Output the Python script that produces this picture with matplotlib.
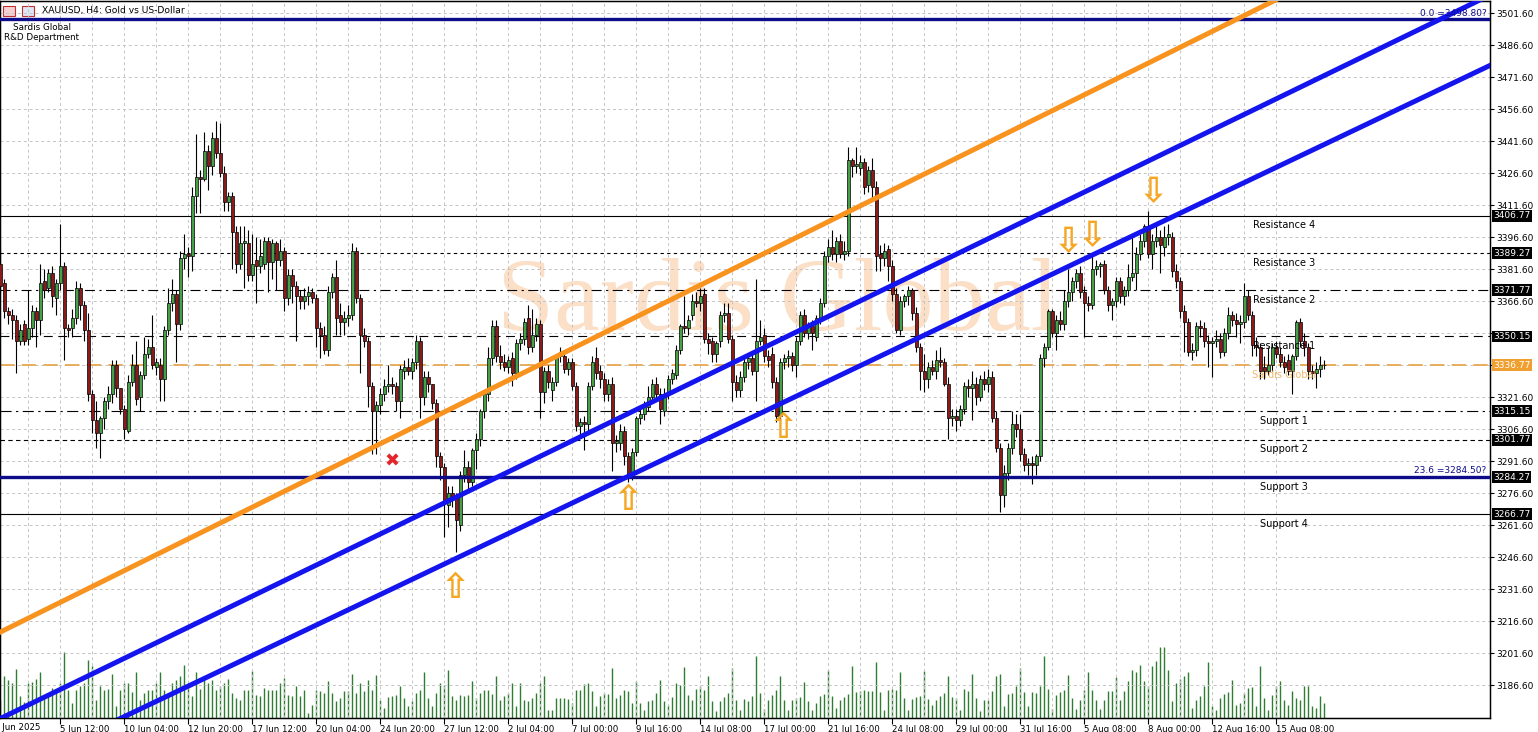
import numpy as np
import matplotlib
matplotlib.use("Agg")
import matplotlib.pyplot as plt
from matplotlib.patches import Rectangle
from matplotlib.transforms import ScaledTranslation, blended_transform_factory

plt.rcParams['font.family'] = ['DejaVu Sans']

# XAUUSD H4 candles, bar 0 = 3 Jun 2025 00:00
opens = [3384, 3375, 3362, 3360, 3358, 3348, 3356, 3349, 3354, 3362,
         3358, 3376, 3373, 3380, 3368, 3375, 3383, 3354, 3354, 3359,
         3373, 3365, 3353, 3323, 3311, 3305, 3312, 3320, 3323, 3337,
         3326, 3316, 3306, 3329, 3337, 3322, 3332, 3342, 3345, 3336,
         3337, 3330, 3353, 3366, 3370, 3356, 3387, 3389, 3388, 3416,
         3425, 3424, 3437, 3430, 3443, 3436, 3427, 3413, 3416, 3399,
         3384, 3394, 3394, 3379, 3386, 3383, 3384, 3395, 3385, 3394,
         3386, 3390, 3368, 3379, 3374, 3369, 3367, 3369, 3371, 3368,
         3354, 3351, 3344, 3371, 3378, 3360, 3357, 3359, 3360, 3390,
         3368, 3351, 3348, 3327, 3315, 3318, 3323, 3327, 3328, 3327,
         3320, 3334, 3336, 3334, 3338, 3348, 3322, 3331, 3328, 3319,
         3294, 3289, 3271, 3277, 3275, 3262, 3285, 3289, 3282, 3297,
         3302, 3315, 3323, 3340, 3355, 3341, 3338, 3336, 3340, 3333,
         3347, 3349, 3359, 3345, 3351, 3356, 3324, 3334, 3325, 3329,
         3341, 3341, 3335, 3338, 3327, 3308, 3310, 3309, 3327, 3340,
         3334, 3330, 3323, 3328, 3300, 3300, 3306, 3294, 3284, 3296,
         3312, 3314, 3317, 3322, 3328, 3323, 3315, 3323, 3330, 3332,
         3344, 3355, 3354, 3360, 3367, 3366, 3370, 3349, 3348, 3342,
         3348, 3360, 3361, 3349, 3329, 3325, 3331, 3338, 3340, 3334,
         3348, 3351, 3341, 3342, 3329, 3313, 3338, 3340, 3341, 3337,
         3348, 3360, 3352, 3355, 3350, 3359, 3366, 3388, 3392, 3389,
         3395, 3389, 3390, 3433, 3430, 3429, 3432, 3421, 3428, 3420,
         3389, 3387, 3391, 3383, 3370, 3353, 3367, 3369, 3372, 3361,
         3345, 3334, 3330, 3336, 3334, 3339, 3338, 3328, 3312, 3313,
         3311, 3316, 3327, 3326, 3328, 3322, 3330, 3328, 3331, 3312,
         3298, 3276, 3286, 3298, 3309, 3307, 3295, 3290, 3291, 3290,
         3294, 3340, 3345, 3362, 3352, 3358, 3356, 3367, 3371, 3376,
         3380, 3371, 3366, 3365, 3382, 3383, 3384, 3372, 3365, 3367,
         3376, 3369, 3372, 3378, 3380, 3389, 3395, 3402, 3389, 3395,
         3397, 3392, 3397, 3397, 3381, 3376, 3362, 3357, 3343, 3344,
         3355, 3354, 3348, 3347, 3348, 3349, 3343, 3352, 3360, 3358,
         3356, 3357, 3369, 3360, 3346, 3345, 3336, 3334, 3337, 3345,
         3342, 3338, 3339, 3334, 3341, 3357, 3348, 3345, 3334, 3333,
         3335, 3337]
highs = [3392, 3377, 3364, 3363, 3360, 3356, 3358, 3372, 3365, 3364,
         3384, 3382, 3382, 3383, 3377, 3403, 3385, 3356, 3363, 3376,
         3375, 3367, 3361, 3325, 3320, 3313, 3322, 3327, 3339, 3339,
         3326, 3318, 3332, 3342, 3348, 3334, 3350, 3349, 3360, 3340,
         3340, 3355, 3373, 3377, 3372, 3390, 3398, 3392, 3420, 3445,
         3428, 3446, 3440, 3446, 3451, 3450, 3430, 3418, 3418, 3402,
         3402, 3402, 3400, 3398, 3397, 3396, 3397, 3397, 3396, 3395,
         3396, 3392, 3382, 3382, 3376, 3372, 3373, 3374, 3373, 3370,
         3357, 3355, 3374, 3380, 3386, 3366, 3362, 3365, 3394, 3392,
         3370, 3354, 3350, 3329, 3320, 3326, 3330, 3337, 3331, 3329,
         3337, 3339, 3340, 3340, 3351, 3350, 3334, 3334, 3328, 3321,
         3296, 3291, 3280, 3280, 3277, 3287, 3297, 3292, 3298, 3305,
         3316, 3325, 3345, 3358, 3358, 3346, 3342, 3341, 3343, 3349,
         3352, 3359, 3365, 3363, 3359, 3358, 3336, 3337, 3331, 3342,
         3345, 3344, 3340, 3340, 3329, 3312, 3313, 3329, 3341, 3345,
         3337, 3333, 3330, 3331, 3304, 3309, 3308, 3296, 3298, 3313,
         3318, 3320, 3327, 3330, 3331, 3326, 3326, 3332, 3335, 3346,
         3356, 3369, 3360, 3370, 3371, 3373, 3373, 3352, 3350, 3348,
         3362, 3366, 3366, 3351, 3332, 3334, 3340, 3342, 3342, 3377,
         3358, 3354, 3344, 3345, 3331, 3340, 3342, 3344, 3343, 3350,
         3362, 3363, 3357, 3358, 3360, 3368, 3390, 3396, 3400, 3397,
         3398, 3395, 3439, 3434, 3439, 3435, 3434, 3430, 3434, 3423,
         3393, 3394, 3393, 3386, 3373, 3369, 3370, 3374, 3373, 3364,
         3347, 3342, 3338, 3339, 3344, 3345, 3340, 3331, 3316, 3316,
         3318, 3329, 3330, 3334, 3331, 3332, 3334, 3335, 3334, 3315,
         3300, 3290, 3300, 3315, 3314, 3314, 3298, 3293, 3294, 3295,
         3342, 3347, 3363, 3363, 3360, 3362, 3372, 3382, 3378, 3382,
         3383, 3374, 3369, 3388, 3386, 3385, 3386, 3374, 3368, 3378,
         3378, 3374, 3384, 3398, 3392, 3398, 3403, 3409, 3398, 3403,
         3400, 3402, 3403, 3399, 3384, 3378, 3365, 3359, 3347, 3357,
         3358, 3357, 3351, 3350, 3353, 3352, 3354, 3364, 3362, 3361,
         3360, 3375, 3372, 3362, 3350, 3347, 3341, 3345, 3347, 3348,
         3345, 3341, 3342, 3342, 3358, 3359, 3352, 3347, 3337, 3338,
         3341, 3339]
lows = [3370, 3359, 3356, 3349, 3333, 3346, 3346, 3346, 3350, 3345,
        3351, 3368, 3371, 3364, 3360, 3372, 3339, 3350, 3350, 3356,
        3358, 3348, 3320, 3305, 3298, 3293, 3307, 3316, 3319, 3322,
        3314, 3302, 3305, 3327, 3318, 3315, 3330, 3340, 3335, 3332,
        3320, 3320, 3351, 3362, 3338, 3353, 3382, 3378, 3381, 3408,
        3408, 3423, 3419, 3426, 3434, 3425, 3409, 3409, 3382, 3380,
        3382, 3373, 3376, 3376, 3366, 3380, 3382, 3371, 3377, 3372,
        3383, 3362, 3365, 3366, 3348, 3363, 3363, 3365, 3366, 3345,
        3340, 3342, 3341, 3368, 3351, 3351, 3351, 3355, 3358, 3366,
        3333, 3345, 3317, 3295, 3295, 3314, 3320, 3324, 3323, 3315,
        3312, 3330, 3332, 3330, 3335, 3312, 3318, 3324, 3316, 3289,
        3283, 3256, 3261, 3270, 3249, 3259, 3282, 3278, 3280, 3288,
        3299, 3312, 3320, 3337, 3338, 3335, 3334, 3333, 3327, 3330,
        3344, 3346, 3342, 3343, 3348, 3312, 3319, 3326, 3320, 3327,
        3338, 3333, 3332, 3325, 3306, 3303, 3297, 3306, 3325, 3330,
        3326, 3320, 3320, 3287, 3296, 3297, 3290, 3282, 3283, 3294,
        3309, 3311, 3315, 3320, 3321, 3309, 3313, 3321, 3328, 3330,
        3342, 3352, 3351, 3358, 3364, 3362, 3347, 3342, 3338, 3338,
        3345, 3357, 3347, 3320, 3322, 3322, 3329, 3335, 3332, 3320,
        3346, 3338, 3336, 3326, 3310, 3311, 3335, 3336, 3334, 3331,
        3346, 3350, 3349, 3344, 3348, 3356, 3364, 3385, 3386, 3385,
        3387, 3386, 3388, 3425, 3427, 3426, 3417, 3418, 3415, 3381,
        3381, 3383, 3376, 3367, 3352, 3351, 3364, 3365, 3358, 3343,
        3325, 3324, 3326, 3332, 3330, 3336, 3327, 3302, 3308, 3306,
        3308, 3314, 3322, 3311, 3318, 3320, 3325, 3324, 3310, 3296,
        3268, 3270, 3283, 3295, 3303, 3292, 3287, 3285, 3281, 3285,
        3292, 3336, 3344, 3350, 3344, 3353, 3353, 3364, 3367, 3373,
        3368, 3350, 3362, 3363, 3379, 3378, 3370, 3362, 3358, 3364,
        3366, 3365, 3369, 3376, 3372, 3386, 3392, 3387, 3382, 3392,
        3380, 3388, 3393, 3378, 3373, 3359, 3343, 3341, 3339, 3341,
        3350, 3345, 3336, 3331, 3345, 3340, 3341, 3349, 3355, 3350,
        3347, 3354, 3358, 3341, 3341, 3330, 3330, 3332, 3334, 3340,
        3336, 3333, 3332, 3323, 3339, 3345, 3341, 3330, 3330, 3326,
        3331, 3335]
closes = [3374, 3362, 3360, 3358, 3348, 3353, 3348, 3354, 3362, 3358,
          3375, 3372, 3380, 3369, 3375, 3383, 3354, 3353, 3359, 3373,
          3365, 3353, 3323, 3311, 3305, 3312, 3320, 3323, 3337, 3326,
          3316, 3307, 3329, 3337, 3321, 3332, 3342, 3345, 3337, 3338,
          3330, 3353, 3366, 3370, 3356, 3387, 3389, 3388, 3416, 3425,
          3424, 3437, 3430, 3443, 3436, 3427, 3413, 3416, 3399, 3384,
          3394, 3395, 3379, 3384, 3383, 3388, 3395, 3385, 3394, 3386,
          3390, 3368, 3379, 3374, 3369, 3367, 3369, 3371, 3368, 3354,
          3351, 3344, 3371, 3378, 3359, 3357, 3359, 3360, 3390, 3368,
          3351, 3348, 3327, 3315, 3318, 3323, 3327, 3328, 3327, 3320,
          3335, 3336, 3334, 3338, 3348, 3322, 3331, 3328, 3319, 3294,
          3289, 3272, 3277, 3275, 3264, 3285, 3289, 3282, 3297, 3302,
          3315, 3323, 3340, 3355, 3341, 3338, 3336, 3339, 3333, 3347,
          3349, 3357, 3345, 3351, 3356, 3324, 3334, 3329, 3329, 3341,
          3343, 3335, 3338, 3327, 3308, 3310, 3309, 3327, 3338, 3333,
          3330, 3323, 3328, 3300, 3301, 3306, 3294, 3284, 3296, 3312,
          3314, 3317, 3322, 3328, 3323, 3316, 3323, 3330, 3333, 3344,
          3355, 3354, 3358, 3367, 3366, 3369, 3349, 3347, 3342, 3347,
          3360, 3361, 3349, 3329, 3325, 3331, 3338, 3340, 3334, 3348,
          3350, 3341, 3339, 3329, 3313, 3338, 3340, 3341, 3337, 3348,
          3360, 3352, 3355, 3352, 3359, 3366, 3388, 3392, 3389, 3395,
          3389, 3390, 3433, 3430, 3431, 3432, 3420, 3428, 3420, 3388,
          3387, 3390, 3383, 3370, 3353, 3367, 3369, 3372, 3361, 3345,
          3334, 3330, 3336, 3334, 3339, 3338, 3328, 3312, 3313, 3311,
          3316, 3327, 3326, 3328, 3322, 3330, 3328, 3331, 3312, 3298,
          3276, 3286, 3298, 3309, 3307, 3295, 3290, 3291, 3290, 3294,
          3340, 3345, 3362, 3352, 3358, 3356, 3367, 3371, 3376, 3380,
          3371, 3366, 3365, 3382, 3383, 3384, 3372, 3365, 3367, 3376,
          3369, 3372, 3378, 3380, 3389, 3395, 3402, 3389, 3395, 3397,
          3393, 3397, 3398, 3381, 3376, 3362, 3357, 3343, 3344, 3355,
          3354, 3348, 3347, 3348, 3349, 3343, 3352, 3360, 3358, 3356,
          3357, 3369, 3360, 3346, 3345, 3334, 3334, 3337, 3345, 3342,
          3338, 3336, 3334, 3341, 3357, 3348, 3345, 3334, 3333, 3335,
          3337, 3337]
tick_volume = [18, 42, 38, 35, 49, 22, 16, 35, 36, 39,
               46, 22, 25, 30, 26, 35, 66, 28, 15, 28,
               32, 35, 58, 52, 18, 32, 28, 29, 44, 12,
               28, 35, 35, 26, 46, 18, 25, 28, 28, 35,
               46, 28, 22, 35, 38, 42, 53, 35, 22, 46,
               29, 38, 35, 38, 28, 32, 35, 39, 25, 20,
               18, 28, 28, 47, 23, 22, 30, 28, 28, 28,
               35, 40, 23, 22, 32, 22, 28, 5, 13, 28,
               27, 25, 37, 25, 17, 20, 27, 27, 44, 25,
               35, 27, 38, 28, 43, 18, 10, 21, 22, 23,
               32, 20, 12, 17, 25, 28, 46, 20, 12, 25,
               35, 33, 48, 22, 18, 23, 22, 23, 37, 20,
               25, 28, 28, 24, 42, 18, 22, 25, 35, 12,
               35, 18, 17, 20, 25, 35, 42, 8, 8, 20,
               20, 20, 19, 15, 28, 28, 34, 35, 27, 12,
               22, 25, 24, 50, 20, 23, 28, 27, 15, 37,
               15, 8, 17, 18, 25,
               38, 17, 13, 21, 35, 33, 51, 23, 18, 29,
               32, 28, 42, 17, 7, 17, 21, 25, 50, 18,
               8, 19, 17, 22, 62, 25, 9, 18, 23, 28,
               42, 18, 8, 18, 20, 21, 36, 17, 8, 15,
               22, 24, 48, 22, 10, 18, 21, 24, 52, 26,
               27, 28, 27, 27, 56, 26, 8, 28, 29, 28,
               46, 20, 8, 19, 21, 22, 47, 19, 13, 18,
               22, 25, 42, 21, 20, 8, 29, 27, 44, 20,
               7, 18, 18, 27, 42, 44, 12, 24, 25, 32,
               50, 26, 12, 26, 25, 32, 62, 29, 9, 23,
               26, 28, 43, 20, 9, 18, 28, 46, 28, 18,
               9, 18, 27, 27, 41, 18, 27, 37, 48, 46,
               53, 37, 32, 52, 57, 71, 71, 48, 17, 35,
               39, 42, 46, 10, 18, 22, 32, 56, 12, 8,
               20, 24, 26, 38, 13, 15, 25, 30, 31, 12,
               52, 20, 8, 23, 32, 37, 18, 13, 27, 20,
               18, 32, 32, 12, 10, 22, 15]

price_ticks = np.arange(3186.6, 3502.0, 15.0)
hidden_ticks = [3351.6, 3336.6]   # covered by level boxes
date_ticks = np.arange(15, 335, 16)
date_labels = ["5 Jun 12:00", "10 Jun 04:00", "12 Jun 20:00", "17 Jun 12:00",
               "20 Jun 04:00", "24 Jun 20:00", "27 Jun 12:00", "2 Jul 04:00",
               "7 Jul 00:00", "9 Jul 16:00", "14 Jul 08:00", "17 Jul 00:00",
               "21 Jul 16:00", "24 Jul 08:00", "29 Jul 00:00", "31 Jul 16:00",
               "5 Aug 08:00", "8 Aug 00:00", "12 Aug 16:00", "15 Aug 08:00"]

# support / resistance levels
level_names = ["Resistance 4", "Resistance 3", "Resistance 2", "Resistance 1",
               "Support 1", "Support 2", "Support 3", "Support 4"]
level_prices = [3406.77, 3389.27, 3371.77, 3350.15, 3315.15, 3301.77, 3284.27, 3266.77]
level_styles = ['-', (0, (3, 3)), (0, (9, 4, 2, 4)), (0, (8, 5)),
                (0, (10, 4, 2, 4)), (0, (4, 3)), '-', '-']
pivot_price = 3336.77
fibo_prices = [3498.80, 3284.50]
fibo_labels = ["0.0 =3498.80?", "23.6 =3284.50?"]

# trend lines: (bar, price) anchor pairs
orange_line = [(0, 3211.6), (300, 3490.4)]
blue_lines = [[(1.25, 3172.2), (360, 3498.9)],
              [(31.25, 3172.2), (333.25, 3442.2)]]

# arrow marks: (bar, price)
up_arrows = [(113.7, 3232.2), (157.0, 3273.5), (195.7, 3307.2)]
down_arrows = [(267.0, 3394.5), (272.9, 3397.3), (288.2, 3417.8)]
cross_mark = (98.0, 3291.3)

fig = plt.figure(figsize=(15.38, 7.32), dpi=100)
ax = fig.add_axes([0.0, 14 / 732, 1490 / 1538, 717 / 732])
axv = ax.twinx()
ax.set_zorder(axv.get_zorder() + 1)
ax.patch.set_visible(False)

x = np.arange(len(opens))
o = np.array(opens, float)
c = np.array(closes, float)
up = c >= o

# volumes
xv = np.arange(len(tick_volume))
axv.vlines(xv, 0, tick_volume, color='#2e7d32', lw=1.0)
axv.set_ylim(0, 717)
axv.set_yticks([])

# watermark
ax.text(0.522, 0.541, "Sardis Global", transform=ax.transAxes, fontsize=74,
        family='Liberation Serif', color='#fbdfc6', ha='center', va='baseline', zorder=0.5)

# levels
for name, p, ls in zip(level_names, level_prices, level_styles):
    ax.axhline(p, color='black', lw=0.8, ls=ls, zorder=2)
    ax.text(321, p - 2.2, name, ha='center', va='top', fontsize=7, color='black', zorder=6)
ax.axhline(pivot_price, color='#e8a850', lw=1.3, ls=(0, (8, 4)), zorder=2)
ax.text(321, pivot_price - 2.2, "Sardis Global", ha='center', va='top', fontsize=7,
        color='#eda646', alpha=0.8, zorder=6)

for p, lab in zip(fibo_prices, fibo_labels):
    ax.axhline(p, color='#0c0c8a', lw=2.4, zorder=4)
    ax.text(371.5, p + 0.8, lab, ha='right', va='bottom', fontsize=6.5, color='#0c0c8a', zorder=6)

# candles
ax.vlines(x, lows, highs, color='black', lw=0.8, zorder=3)
ax.bar(x, np.abs(c - o), bottom=np.minimum(o, c), width=0.72,
       color=np.where(up, '#46a046', '#8b1a1a'), edgecolor='black', linewidth=0.5, zorder=3.5)

# trend lines
xl = np.array([-10, 400])
(x0, y0), (x1, y1) = orange_line
ax.plot(xl, y0 + (y1 - y0) / (x1 - x0) * (xl - x0), color='#f7931e', lw=3.6, zorder=5,
        solid_capstyle='butt')
for (x0, y0), (x1, y1) in blue_lines:
    ax.plot(xl, y0 + (y1 - y0) / (x1 - x0) * (xl - x0), color='#1414ee', lw=3.6, zorder=5,
            solid_capstyle='butt')

for bx, bp in up_arrows:
    ax.text(bx, bp, '\u21e7', ha='center', va='center', fontsize=25, fontweight='bold',
            color='#f5a623', zorder=6)
for bx, bp in down_arrows:
    ax.text(bx, bp, '\u21e9', ha='center', va='center', fontsize=25, fontweight='bold',
            color='#f5a623', zorder=6)
ax.text(cross_mark[0], cross_mark[1], '\u2716', ha='center', va='center', fontsize=13,
        color='#e3262b', zorder=6)

# axes
ax.set_xlim(-0.1, 372.4)
ax.set_ylim(3171.3, 3507.4)
ax.yaxis.tick_right()
ax.set_yticks(price_ticks)
ax.set_yticklabels(["" if any(abs(p - h) < 0.01 for h in hidden_ticks) else f"{p:.2f}"
                    for p in price_ticks], fontsize=6.5)
ax.tick_params(axis='y', direction='out', length=3, pad=1.5)
ax.set_xticks(date_ticks)
ax.set_xticks(date_ticks - 8, minor=True)
ax.set_xticklabels(date_labels, fontsize=6.2, ha='left')
off = ScaledTranslation(2 / 100, 0, fig.dpi_scale_trans)
for lab in ax.get_xticklabels():
    lab.set_transform(lab.get_transform() + off)
ax.tick_params(axis='x', which='major', direction='out', length=4, pad=1)
ax.tick_params(axis='x', which='minor', length=0)
ax.grid(True, which='both', color='#c4c4c4', ls=(0, (3, 3)), lw=0.7)
ax.set_axisbelow(True)
for s in ax.spines.values():
    s.set_color('black')
    s.set_linewidth(1)

trans = blended_transform_factory(ax.transAxes, ax.transData)
for p in level_prices:
    ax.text(1.002, p, f"{p:.2f}", transform=trans, ha='left', va='center', fontsize=6.5,
            color='white', bbox=dict(boxstyle='square,pad=0.15', fc='black', ec='none'),
            clip_on=False, zorder=7)
ax.text(1.002, pivot_price, f"{pivot_price:.2f}", transform=trans, ha='left', va='center',
        fontsize=6.5, color='white', bbox=dict(boxstyle='square,pad=0.15', fc='#f0a030', ec='none'),
        clip_on=False, zorder=7)

# first date label, partly cut by the left edge as in the terminal
fig.text(-6 / 1538, 1 - 727 / 732, "2 Jun 2025", fontsize=6.2, va='center', ha='left')

# header
fig.add_artist(Rectangle((3 / 1538, 1 - 16 / 732), 12 / 1538, 10 / 732, transform=fig.transFigure,
                         fc='#f4d0d0', ec='#c03030', lw=0.8))
fig.add_artist(Rectangle((22 / 1538, 1 - 16 / 732), 12 / 1538, 10 / 732, transform=fig.transFigure,
                         fc='#dde4f4', ec='#c03030', lw=0.8))
fig.text(42 / 1538, 1 - 11 / 732, "XAUUSD, H4: Gold vs US-Dollar", fontsize=6.6, va='center')
fig.text(42 / 1538, 1 - 27 / 732, "Sardis Global", fontsize=6.3, va='center', ha='center')
fig.text(42 / 1538, 1 - 38 / 732, "R&D Department", fontsize=6.3, va='center', ha='center')

fig.savefig("out.png", dpi=100, facecolor='white')
